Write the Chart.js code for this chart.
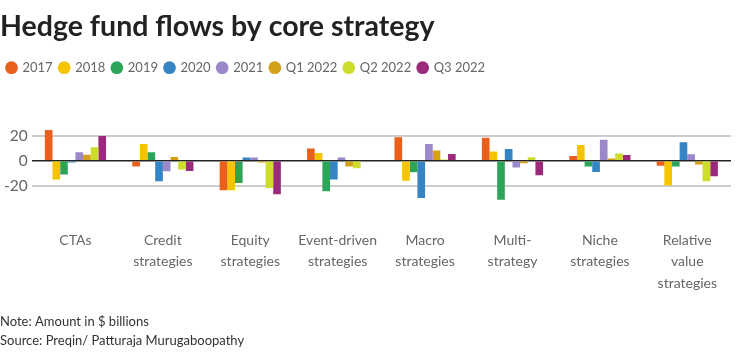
<!DOCTYPE html>
<html>
<head>
<meta charset="utf-8">
<script src="https://cdn.jsdelivr.net/npm/chart.js@4"></script>
<style>
  body { margin: 0; background: #fff; }
  #wrap { width: 736px; height: 352px; position: relative; }
</style>
</head>
<body>
<div id="wrap"><canvas id="flowsChart"></canvas></div>
<script>
// categories and series (values in $ billions)
const categories = [
  "CTAs",
  ["Credit", "strategies"],
  ["Equity", "strategies"],
  ["Event-driven", "strategies"],
  ["Macro", "strategies"],
  ["Multi-", "strategy"],
  ["Niche", "strategies"],
  ["Relative", "value", "strategies"]
];
const seriesNames = ["2017", "2018", "2019", "2020", "2021", "Q1 2022", "Q2 2022", "Q3 2022"];
const seriesColors = ["#e8601c", "#f5c400", "#2ca55a", "#3584c4", "#9b88c8", "#d4a017", "#cedd2c", "#9b2a7c"];

const v2017 = [25, -4.5, -23.7, 10, 19, 18.7, 4, -4];
const v2018 = [-15, 13.6, -23.7, 6.4, -16, 7.5, 12.8, -20];
const v2019 = [-11, 7, -18, -24.5, -9.3, -31.5, -4.5, -4.5];
const v2020 = [-1.3, -16.5, 2.7, -15, -30, 9.6, -9, 15];
const v2021 = [7, -8.5, 2.7, 2.7, 13.6, -5.3, 17, 5.3];
const vQ1 = [5, 3.2, -1.3, -4.5, 8.3, -2, 2, -3];
const vQ2 = [11, -7, -22, -6, 1, 3, 5.9, -16.5];
const vQ3 = [20, -8.3, -27, 0, 5.6, -11.7, 4.8, -12.5];
const allValues = [v2017, v2018, v2019, v2020, v2021, vQ1, vQ2, vQ3];

const yTicks = [-20, 0, 20];

const fontFamily = "Lato, 'Noto Sans', sans-serif";

const datasets = seriesNames.map((name, i) => ({
  label: name,
  data: allValues[i],
  backgroundColor: seriesColors[i],
  borderWidth: 0,
  barPercentage: 1,
  categoryPercentage: 0.7
}));

// grid styles per tick (-20, 0, 20): zero line dark, others light
const gridColors = yTicks.map(v => v === 0 ? "#222" : "#cccccc");
const gridWidths = yTicks.map(v => v === 0 ? 1.5 : 2);

new Chart(document.getElementById("flowsChart"), {
  type: "bar",
  data: { labels: categories, datasets: datasets },
  options: {
    responsive: true,
    maintainAspectRatio: false,
    animation: false,
    layout: { padding: { left: 0, right: 0, top: 0, bottom: 2 } },
    plugins: {
      title: {
        display: true,
        text: "Hedge fund flows by core strategy",
        align: "start",
        color: "#222",
        font: { family: fontFamily, size: 28.5, weight: "bold" },
        padding: { top: 10, bottom: 10 }
      },
      legend: {
        display: true,
        align: "start",
        labels: {
          usePointStyle: true,
          pointStyle: "circle",
          boxWidth: 9,
          boxHeight: 9,
          color: "#666",
          padding: 7,
          font: { family: fontFamily, size: 13 }
        }
      },
      subtitle: {
        display: true,
        position: "bottom",
        align: "start",
        text: ["Note: Amount in $ billions", "Source: Preqin/ Patturaja Murugaboopathy"],
        color: "#333",
        font: { family: fontFamily, size: 13, lineHeight: 1.45 },
        padding: { top: 14, bottom: 0 }
      },
      tooltip: { enabled: false }
    },
    scales: {
      x: {
        grid: { display: false, drawTicks: false, tickLength: 0 },
        border: { display: false },
        afterFit: (scale) => { scale.height = 88; },
        ticks: {
          color: "#666",
          maxRotation: 0,
          autoSkip: false,
          padding: 19,
          font: { family: fontFamily, size: 14, lineHeight: 1.55 }
        }
      },
      y: {
        min: -40,
        max: 62,
        afterBuildTicks: (axis) => {
          axis.ticks = yTicks.map(v => ({ value: v }));
        },
        border: { display: false },
        grid: {
          color: gridColors,
          lineWidth: gridWidths,
          drawTicks: false
        },
        ticks: {
          color: "#666",
          padding: 4,
          font: { family: fontFamily, size: 15.5 },
          callback: (v) => String(v)
        }
      }
    }
  }
});
</script>
</body>
</html>
